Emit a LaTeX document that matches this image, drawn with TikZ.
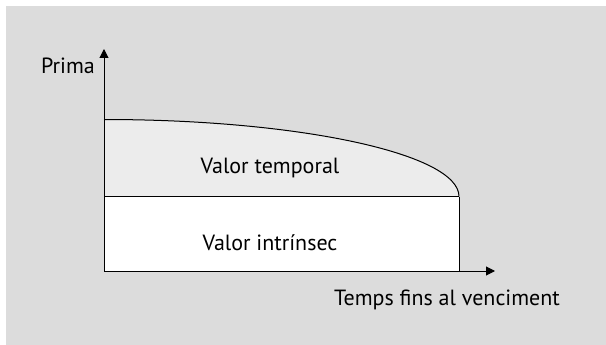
\documentclass[tikz,border=0pt]{standalone}
\usepackage{fontspec}
\setmainfont{PT Sans}
\usetikzlibrary{arrows.meta}
\definecolor{panel}{RGB}{220,220,220}
\definecolor{timefill}{RGB}{236,236,236}
\tikzset{
  axis/.style={line width=1pt, -{Triangle[length=9pt,width=9pt]}},
  edge/.style={line width=1pt},
  lbl/.style={anchor=base, inner sep=0pt, font=\fontsize{22}{26}\selectfont}
}
\begin{document}
\begin{tikzpicture}[x=1pt,y=-1pt]
\useasboundingbox (0,0) rectangle (606,345);
\fill[white] (0,0) rectangle (606,345);
\fill[panel] (6,6) rectangle (606,345);
% coordinates
\coordinate (O) at (104,271);
\coordinate (Ytip) at (104,49);
\coordinate (Xtip) at (495,271);
\coordinate (T0) at (104,119.5);
\coordinate (S0) at (104,196.5);
\coordinate (S1) at (459,196.5);
\coordinate (B1) at (459,271);
% regions
\fill[white] (S0) rectangle (B1);
\fill[timefill] (S0) -- (T0) arc[start angle=-90, end angle=0, x radius=355, y radius=77] -- cycle;
% outlines
\draw[edge] (T0) arc[start angle=-90, end angle=0, x radius=355, y radius=77];
\draw[edge] (S0) -- (S1);
\draw[edge] (S1) -- (B1);
\draw[axis] (O) -- (Ytip);
\draw[axis] (O) -- (Xtip);
% labels
\node[lbl] (prima) at (68,74) {Prima};
\node[lbl] (vt) at (270,173.5) {Valor temporal};
\node[lbl] (vi) at (270,250) {Valor intrínsec};
\node[lbl] (tv) at (447,305) {Temps fins al venciment};
\end{tikzpicture}
\end{document}
